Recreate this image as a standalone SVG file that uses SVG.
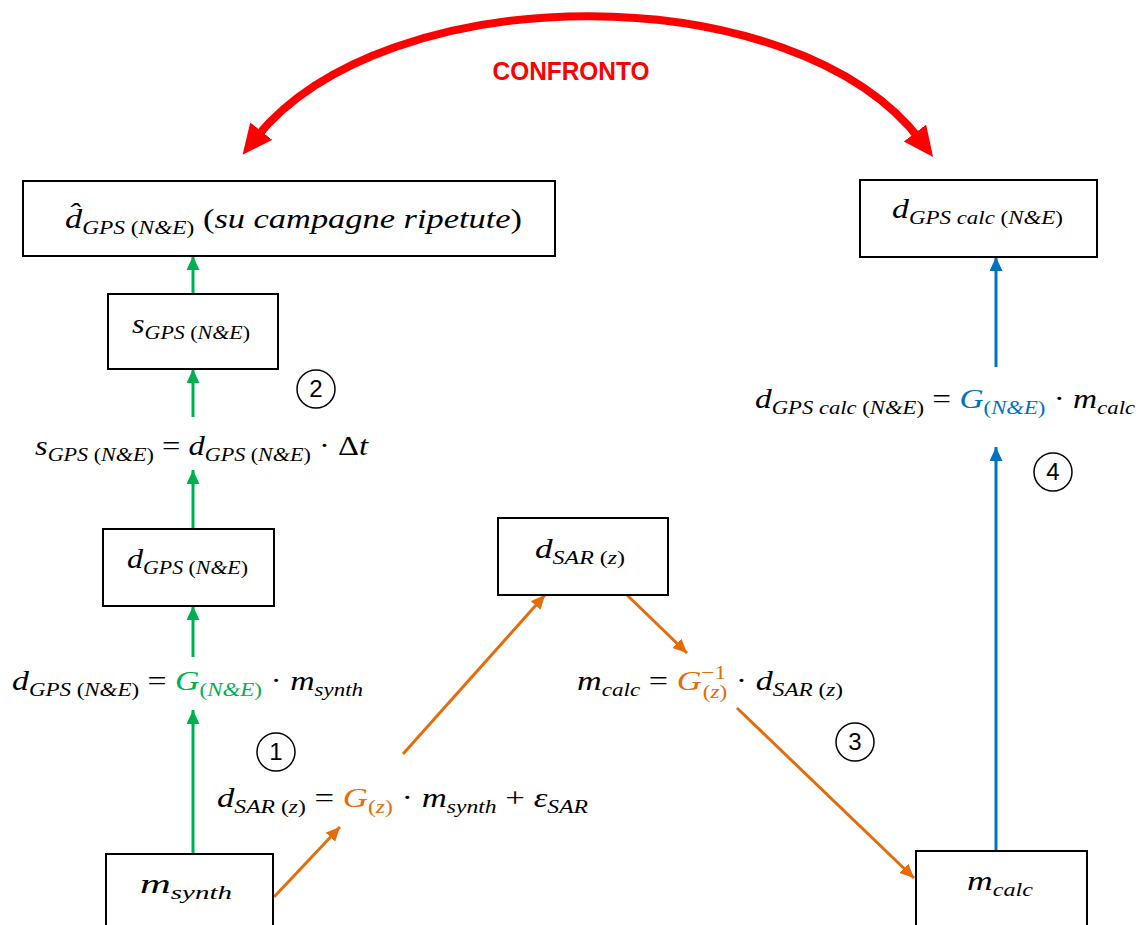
<svg xmlns="http://www.w3.org/2000/svg" width="1146" height="925" viewBox="0 0 1146 925">
<style>
.box{fill:#fff;stroke:#000;stroke-width:2}
.m{font-family:"Liberation Serif",serif;font-style:italic;font-size:28px;fill:#000}
.s{font-size:19px}
.u{font-style:normal}
.num{font-family:"Liberation Sans",sans-serif;font-size:24px;text-anchor:middle;fill:#000}
.circ{fill:none;stroke:#000;stroke-width:1.5}
.g{stroke:#00B050;stroke-width:3;fill:none;marker-end:url(#ag)}
.o{stroke:#E46C0A;stroke-width:3;fill:none;marker-end:url(#ao)}
.b{stroke:#0070C0;stroke-width:3;fill:none;marker-end:url(#ab)}
</style>
<defs>
<marker id="ag" markerUnits="userSpaceOnUse" markerWidth="15" markerHeight="14" refX="14" refY="6.5" orient="auto"><path d="M0,0 L14,6.5 L0,13 z" fill="#00B050"/></marker>
<marker id="ao" markerUnits="userSpaceOnUse" markerWidth="15" markerHeight="14" refX="14" refY="6.5" orient="auto"><path d="M0,0 L14,6.5 L0,13 z" fill="#E46C0A"/></marker>
<marker id="ab" markerUnits="userSpaceOnUse" markerWidth="15" markerHeight="14" refX="14" refY="6.5" orient="auto"><path d="M0,0 L14,6.5 L0,13 z" fill="#0070C0"/></marker>
<marker id="ar" markerUnits="userSpaceOnUse" markerWidth="32" markerHeight="30" refX="10" refY="14" orient="auto-start-reverse"><path d="M0,0 L30,14 L0,28 z" fill="#FF0000"/></marker>
</defs>

<g id="connectors">
<path d="M255,139 C385,-25 795,-25 921,141" stroke="#FF0000" stroke-width="8" fill="none" marker-start="url(#ar)" marker-end="url(#ar)"/>
<line class="g" x1="193" y1="294" x2="193" y2="256"/>
<line class="g" x1="193" y1="417" x2="193" y2="369"/>
<line class="g" x1="193" y1="529" x2="193" y2="470"/>
<line class="g" x1="193" y1="657" x2="193" y2="606"/>
<line class="g" x1="193" y1="853" x2="193" y2="710"/>
<line class="o" x1="274" y1="897" x2="340" y2="827"/>
<line class="o" x1="403" y1="754" x2="545" y2="595"/>
<line class="o" x1="627" y1="595" x2="687" y2="653"/>
<line class="o" x1="737" y1="708" x2="914" y2="878"/>
<line class="b" x1="996" y1="851" x2="996" y2="447"/>
<line class="b" x1="996" y1="367" x2="996" y2="257"/>
</g>

<g id="confronto">
<text x="571" y="80" font-family="Liberation Sans, sans-serif" font-weight="bold" font-size="26" fill="#FF0000" text-anchor="middle" textLength="157" lengthAdjust="spacingAndGlyphs">CONFRONTO</text>
</g>

<g id="node-dhat">
<rect class="box" x="23" y="181" width="532" height="75"/>
<text class="m" x="65" y="228" textLength="457" lengthAdjust="spacingAndGlyphs">d̂<tspan class="s" dy="6">GPS <tspan class="u">(</tspan>N&amp;E<tspan class="u">)</tspan></tspan><tspan dy="-6"> </tspan><tspan class="u">(</tspan>su campagne ripetute<tspan class="u">)</tspan></text>
</g>

<g id="node-sgps">
<rect class="box" x="108" y="294" width="170" height="75"/>
<text class="m" x="132" y="333" textLength="118" lengthAdjust="spacingAndGlyphs">s<tspan class="s" dy="6">GPS <tspan class="u">(</tspan>N&amp;E<tspan class="u">)</tspan></tspan></text>
</g>

<g id="eq-sgps">
<text class="m" x="35" y="455" textLength="333" lengthAdjust="spacingAndGlyphs">s<tspan class="s" dy="6">GPS <tspan class="u">(</tspan>N&amp;E<tspan class="u">)</tspan></tspan><tspan class="u" dy="-6"> = </tspan>d<tspan class="s" dy="6">GPS <tspan class="u">(</tspan>N&amp;E<tspan class="u">)</tspan></tspan><tspan class="u" dy="-6"> · Δ</tspan>t</text>
</g>

<g id="node-dgps">
<rect class="box" x="103" y="529" width="171" height="77"/>
<text class="m" x="127" y="568" textLength="121" lengthAdjust="spacingAndGlyphs">d<tspan class="s" dy="6">GPS <tspan class="u">(</tspan>N&amp;E<tspan class="u">)</tspan></tspan></text>
</g>

<g id="eq-dgps">
<text class="m" x="12" y="690" textLength="351" lengthAdjust="spacingAndGlyphs">d<tspan class="s" dy="6">GPS <tspan class="u">(</tspan>N&amp;E<tspan class="u">)</tspan></tspan><tspan class="u" dy="-6"> = </tspan><tspan fill="#00B050">G<tspan class="s" dy="6"><tspan class="u">(</tspan>N&amp;E<tspan class="u">)</tspan></tspan></tspan><tspan class="u" dy="-6"> · </tspan>m<tspan class="s" dy="6">synth</tspan></text>
</g>

<g id="node-msynth">
<rect class="box" x="106" y="854" width="167" height="80"/>
<text class="m" x="140" y="893" textLength="92" lengthAdjust="spacingAndGlyphs">m<tspan class="s" dy="6">synth</tspan></text>
</g>

<g id="eq-dsar">
<text class="m" x="217" y="807" textLength="371" lengthAdjust="spacingAndGlyphs">d<tspan class="s" dy="6">SAR <tspan class="u">(</tspan>z<tspan class="u">)</tspan></tspan><tspan class="u" dy="-6"> = </tspan><tspan fill="#E46C0A">G<tspan class="s" dy="6"><tspan class="u">(</tspan>z<tspan class="u">)</tspan></tspan></tspan><tspan class="u" dy="-6"> · </tspan>m<tspan class="s" dy="6">synth</tspan><tspan class="u" dy="-6"> + </tspan>ε<tspan class="s" dy="6">SAR</tspan></text>
</g>

<g id="node-dsar">
<rect class="box" x="498" y="518" width="170" height="77"/>
<text class="m" x="535" y="558" textLength="90" lengthAdjust="spacingAndGlyphs">d<tspan class="s" dy="6">SAR <tspan class="u">(</tspan>z<tspan class="u">)</tspan></tspan></text>
</g>

<g id="eq-mcalc">
<text class="m" x="577" y="690" textLength="266" lengthAdjust="spacingAndGlyphs">m<tspan class="s" dy="6">calc</tspan><tspan class="u" dy="-6"> = </tspan><tspan fill="#E46C0A">G<tspan class="s u" dy="-11">−1</tspan><tspan class="s" dx="-19" dy="19"><tspan class="u">(</tspan>z<tspan class="u">)</tspan></tspan></tspan><tspan class="u" dy="-8"> · </tspan>d<tspan class="s" dy="6">SAR <tspan class="u">(</tspan>z<tspan class="u">)</tspan></tspan></text>
</g>

<g id="node-mcalc">
<rect class="box" x="916" y="851" width="171" height="80"/>
<text class="m" x="967" y="890" textLength="66" lengthAdjust="spacingAndGlyphs">m<tspan class="s" dy="6">calc</tspan></text>
</g>

<g id="eq-dgpscalc">
<text class="m" x="755" y="408" textLength="380" lengthAdjust="spacingAndGlyphs">d<tspan class="s" dy="6">GPS calc <tspan class="u">(</tspan>N&amp;E<tspan class="u">)</tspan></tspan><tspan class="u" dy="-6"> = </tspan><tspan fill="#0070C0">G<tspan class="s" dy="6"><tspan class="u">(</tspan>N&amp;E<tspan class="u">)</tspan></tspan></tspan><tspan class="u" dy="-6"> · </tspan>m<tspan class="s" dy="6">calc</tspan></text>
</g>

<g id="node-dgpscalc">
<rect class="box" x="860" y="180" width="237" height="77"/>
<text class="m" x="892" y="218" textLength="171" lengthAdjust="spacingAndGlyphs">d<tspan class="s" dy="6">GPS calc <tspan class="u">(</tspan>N&amp;E<tspan class="u">)</tspan></tspan></text>
</g>

<g id="step1"><circle class="circ" cx="276" cy="752" r="19"/><text class="num" x="276" y="760">1</text></g>
<g id="step2"><circle class="circ" cx="316" cy="389" r="19"/><text class="num" x="316" y="397">2</text></g>
<g id="step3"><circle class="circ" cx="855" cy="742" r="19"/><text class="num" x="855" y="750">3</text></g>
<g id="step4"><circle class="circ" cx="1053" cy="472" r="19"/><text class="num" x="1053" y="480">4</text></g>
</svg>
